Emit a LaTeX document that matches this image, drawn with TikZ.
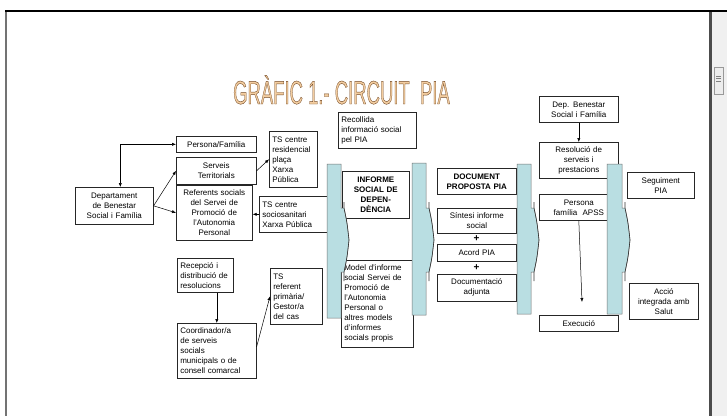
\documentclass[tikz,border=0pt]{standalone}
\usepackage{fontspec}
\usepackage{graphicx}
\setmainfont{Liberation Sans}
\usetikzlibrary{arrows.meta}
\definecolor{barblue}{RGB}{185,222,226}
\definecolor{titlefill}{RGB}{243,205,160}
\definecolor{scrollbg}{RGB}{240,240,240}
\newcommand\PIAbar[4]{%
  \filldraw[fill=barblue, draw=black!55, line width=0.5pt]
    (#1,#3) -- (#2,#3) -- (#2,208) -- ({#2+3},208)
    .. controls ({#2+6},222) .. ({#2+8},240)
    .. controls ({#2+6},258) .. ({#2+3},272) -- (#2,272) -- (#2,#4) -- (#1,#4) -- cycle;
  \draw[black!80, line width=0.6pt] ({#2+3},202) -- ({#2+3},208)
    .. controls ({#2+6},222) .. ({#2+8},240)
    .. controls ({#2+6},258) .. ({#2+3},272) -- ({#2+3},281);
}
\begin{document}
\begin{tikzpicture}[x=1pt,y=-1pt,
  bx/.style={draw=black!85, fill=white, line width=0.6pt, anchor=north west,
    inner xsep=3pt, inner ysep=1pt, font=\fontsize{8}{10}\selectfont},
  bxc/.style={bx, align=center},
  bxl/.style={bx, align=left},
  bxb/.style={bx, align=center, font=\fontsize{8}{10}\selectfont\bfseries},
  arr/.style={line width=0.5pt, -{Latex[length=4pt,width=3.2pt]}},
  plus/.style={font=\fontsize{10}{10}\selectfont\bfseries, inner sep=0pt}]
\useasboundingbox (0,0) rectangle (727,416);
% window frame
\fill[scrollbg] (712,12) rectangle (727,416);
\draw[black!40, fill=black!7, line width=0.5pt] (714,67) rectangle (723,94);
\draw[black!50, line width=0.4pt] (716,76) -- (721,76) (716,78.5) -- (721,78.5) (716,81) -- (721,81);
\draw[black!70, line width=3pt] (710.5,12) -- (710.5,416);
\draw[black!55, line width=2pt] (6,12) -- (6,416);
\draw[black, line width=2.3pt] (5,11) -- (727,11);
% left group
\node[bxc, minimum width=78pt, minimum height=37pt, text width=72pt] (dep) at (75,187) {Departament\\de Benestar\\Social i Família};
\node[bxc, minimum width=80pt, minimum height=16pt, text width=74pt] (pf) at (176,136) {Persona/Família};
\node[bxc, minimum width=80pt, minimum height=27pt, text width=74pt] (st) at (176,157) {Serveis\\Territorials};
\node[bxc, minimum width=76pt, minimum height=55pt, text width=70pt] (ref) at (176,185) {Referents socials\\del Servei de\\Promoció de\\l’Autonomia\\Personal};
\node[bxl, minimum width=48pt, minimum height=56pt, text width=42pt] (ts1) at (269,131) {TS centre\\residencial\\plaça\\Xarxa\\Pública};
\node[bxl, minimum width=68pt, minimum height=36pt, text width=62pt] (ts2) at (259,196) {TS centre\\sociosanitari\\Xarxa Pública};
\node[bxl, minimum width=56pt, minimum height=34pt, text width=50pt] (rec) at (177,258) {Recepció i\\distribució de\\resolucions};
\node[bxl, minimum width=79pt, minimum height=55pt, text width=73pt] (coord) at (177,323) {Coordinador/a\\de serveis\\socials\\municipals o de\\consell comarcal};
\node[bxl, minimum width=52pt, minimum height=56pt, text width=46pt] (tsr) at (270,268) {TS\\referent\\primària/\\Gestor/a\\del cas};
% middle group
\node[bxl, minimum width=78pt, minimum height=36pt, text width=72pt] (rcl) at (338,112) {Recollida\\informació social\\pel PIA};
\node[bxb, minimum width=67pt, minimum height=47pt, text width=61pt] (inf) at (342,171) {INFORME\\SOCIAL DE\\DEPEN-\\DÈNCIA};
\node[bxl, minimum width=72pt, minimum height=87pt, text width=66pt] (mod) at (341,260) {Model d’informe\\social Servei de\\Promoció de\\l’Autonomia\\Personal o\\altres models\\d’informes\\socials propis};
\node[bxb, minimum width=79pt, minimum height=26pt, text width=73pt] (doc) at (437,168) {DOCUMENT\\PROPOSTA PIA};
\node[bxc, minimum width=79pt, minimum height=25pt, text width=73pt] (sin) at (437,208) {Síntesi informe\\social};
\node[plus] (p1) at (476.5,238.5) {+};
\node[bxc, minimum width=79pt, minimum height=17pt, text width=73pt] (acord) at (437,244) {Acord PIA};
\node[plus] (p2) at (476.5,267.5) {+};
\node[bxc, minimum width=79pt, minimum height=27pt, text width=73pt] (docadj) at (437,274) {Documentació\\adjunta};
% right group
\node[bxc, minimum width=79pt, minimum height=26pt, text width=73pt] (depb) at (539,96) {Dep. Benestar\\Social i Família};
\node[bxc, minimum width=79pt, minimum height=36pt, text width=73pt] (res) at (539,142) {Resolució de\\serveis i\\prestacions};
\node[bxc, minimum width=79pt, minimum height=26pt, text width=73pt] (pers) at (539,194) {Persona\\família~~APSS};
\node[bxc, minimum width=79pt, minimum height=16pt, text width=73pt] (exe) at (539,315) {Execució};
\node[bxc, minimum width=67pt, minimum height=26pt, text width=61pt] (seg) at (627,172) {Seguiment\\PIA};
\node[bxc, minimum width=69pt, minimum height=36pt, text width=63pt] (acc) at (629,283) {Acció\\integrada amb\\Salut};
\coordinate (exetip) at (582,302);
% connectors
\draw[line width=0.5pt, {Latex[length=4pt,width=3.2pt]}-{Latex[length=4pt,width=3.2pt]}] ([xshift=6pt]dep.north) |- (pf.west);
\draw[arr] (dep.east) -- (st.west);
\draw[arr] (dep.east) -- (ref.west);
\draw[arr] (st.east) -- (ts1.west);
\draw[arr] (ts2.west) -- (ref.east |- ts2.west);
\draw[arr] (rec.south -| coord.north) -- (coord.north);
\draw[arr] ([yshift=4pt]coord.east) -- (tsr.west);
\draw[arr] (depb.south) -- (res.north);
\draw[arr] (pers.south) -- (exetip);
% big arrows
\PIAbar{327}{341}{164}{318}
\PIAbar{412}{426}{163}{315}
\PIAbar{517}{531}{164}{314}
\PIAbar{607}{622}{164}{314}
% title
\node[anchor=base, inner sep=0pt] (title) at (341.5,104) {\fontsize{33}{33}\selectfont\scalebox{0.56}[1]{{\color{titlefill}\special{pdf:literal direct 2 Tr 0.45 w 0.45 0.29 0.15 RG}GRÀFIC 1.- CIRCUIT\ \ PIA\special{pdf:literal direct 0 Tr}}}};
\end{tikzpicture}
\end{document}
